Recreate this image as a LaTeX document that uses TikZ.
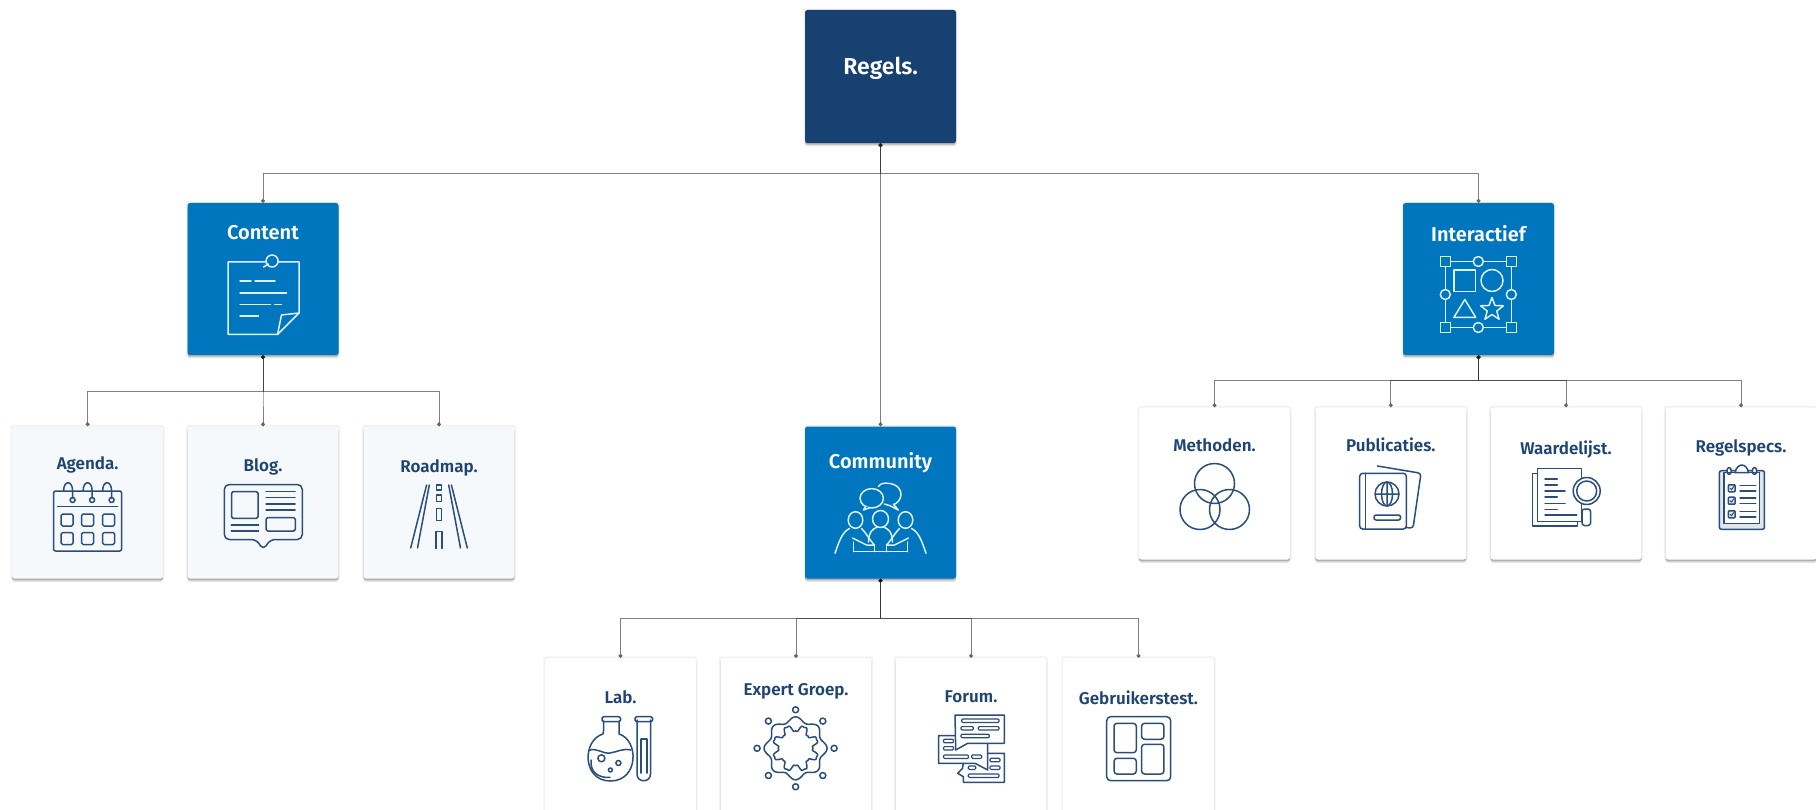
\documentclass[tikz,border=0pt]{standalone}
\usepackage{fontspec}
\setmainfont{Fira Sans}[BoldFont={Fira Sans SemiBold}]
\usepackage{tikz}
\usetikzlibrary{arrows.meta,shadows}
\definecolor{navybox}{RGB}{22,65,113}
\definecolor{bluebox}{RGB}{0,118,190}
\definecolor{palebox}{RGB}{245,249,252}
\definecolor{inktext}{RGB}{30,68,115}
\definecolor{inkline}{RGB}{42,78,122}
\definecolor{iconpale}{RGB}{222,240,250}
\tikzset{
  softshadow/.style={
    general shadow={shadow scale=1.02,opacity=.05,fill=black},
    general shadow={shadow yshift=-1pt,opacity=.10,fill=black},
    general shadow={shadow yshift=-2pt,opacity=.12,fill=black},
    general shadow={shadow yshift=-3.5pt,opacity=.10,fill=black}},
  cardbox/.style={rectangle,rounded corners=2.5pt,inner sep=0pt,minimum width=151pt,minimum height=152pt,softshadow},
  navycard/.style={cardbox,fill=navybox,minimum height=133pt},
  bluecard/.style={cardbox,fill=bluebox},
  palecard/.style={cardbox,fill=palebox},
  whitecard/.style={cardbox,fill=white},
  cardtext/.style={anchor=base,inner sep=0pt,font=\fontsize{17}{20}\selectfont\bfseries,text=inktext},
  toptext/.style={cardtext,font=\fontsize{20}{24}\selectfont\bfseries,text=white},
  wire/.style={draw=black!80,draw opacity=.62,line width=1pt,{Circle[length=4pt,fill=black]}-{Circle[length=4pt,fill=black!45]}},
  iconw/.style={draw=iconpale,line width=1.5pt,line join=round,line cap=round},
  iconb/.style={draw=inkline,line width=1.5pt,line join=round,line cap=round}
}
\newcommand{\iconnote}[2]{\begin{scope}[shift={(#1,#2)}]
  \draw[iconw] (-35.5,-36)--(35.5,-36)--(35.5,15)--(14,36.5)--(-35.5,36.5)--cycle;
  \draw[iconw] (35.5,15)--(18,17)--(14,36.5);
  \draw[iconw,fill=bluebox] (8.6,-37) circle (6);
  \draw[iconw] (0,-31)--(5,-34);
  \foreach \xa/\xb/\yy in {-23.5/-12.5/-17,-8.5/11.5/-17,-23.5/23/-5,-23.5/7/6.3,11.3/18/6.3,-23.5/-5/18}{
    \draw[iconw] (\xa,\yy)--(\xb,\yy);
  }
\end{scope}}
\newcommand{\iconshapes}[2]{\begin{scope}[shift={(#1,#2)}]
  \draw[iconw] (-33,-33) rectangle (33,33);
  \foreach \xx in {-33,33}{\foreach \yy in {-33,33}{
    \draw[iconw,fill=bluebox] (\xx-5,\yy-5) rectangle (\xx+5,\yy+5);
  }}
  \foreach \xx/\yy in {0/-33,0/33,-33/0,33/0}{
    \draw[iconw,fill=bluebox] (\xx,\yy) circle (5);
  }
  \draw[iconw] (-24.5,-24.5) rectangle (-3,-3);
  \draw[iconw] (13.7,-14) circle (11);
  \draw[iconw] (-13.5,5)--(-2.5,23)--(-24.5,23)--cycle;
  \draw[iconw,shift={(13.7,15)}] (-90:12)--(-54:5)--(-18:12)--(18:5)--(54:12)--(90:5)--(126:12)--(162:5)--(198:12)--(234:5)--cycle;
\end{scope}}
\newcommand{\iconpeople}[2]{\begin{scope}[shift={(#1,#2)}]
  \draw[iconw] (-2.2,-31.3) .. controls (0,-35) and (4,-35) .. (7.8,-34.7) .. controls (17,-34) and (21,-28) .. (20.5,-23) .. controls (20,-18) and (16,-14) .. (13,-13.7)--(17.8,-8)--(9.5,-12.3)--(3.8,-14);
  \draw[iconw] (-8.8,-19.7) ellipse (11.7 and 9.7);
  \draw[iconw,fill=bluebox] (-15,-11.5)--(-17,-8)--(-11,-10.3);
  \foreach \sgn in {-1,1}{
    \draw[iconw] (\sgn*25,2) ellipse (7.3 and 8.3);
    \draw[iconw] (\sgn*45.5,35.3) .. controls (\sgn*41,22) and (\sgn*38,14) .. (\sgn*31,10.5);
    \draw[iconw] (\sgn*19,10.5) .. controls (\sgn*15,14) and (\sgn*11,22) .. (\sgn*6,27)--(\sgn*14,27)--(\sgn*28,20);
    \draw[iconw] (\sgn*12,24) .. controls (\sgn*12,14) and (\sgn*8,11) .. (\sgn*3,9);
    \draw[iconw] (\sgn*27,24)--(\sgn*27,33.7) (\sgn*6,27)--(\sgn*6,33.7);
  }
  \draw[iconw] (0,1) ellipse (8 and 8.5);
  \draw[iconw] (-27,33.7)--(27,33.7);
\end{scope}}
\newcommand{\iconcalendar}[2]{\begin{scope}[shift={(#1,#2)}]
  \draw[iconb,rounded corners=2pt] (-34,-30) rectangle (34,30);
  \draw[iconb] (-30,-14.5)--(30,-14.5);
  \foreach \xx in {-15,4.5,24}{
    \draw[iconb] (\xx-9,-30) .. controls (\xx-9,-41) and (\xx,-41) .. (\xx,-30)--(\xx,-23);
    \draw[iconb] (\xx,-21) circle (2.5);
  }
  \foreach \xx in {-20.5,0,21}{\foreach \yy in {-1,17.5}{
    \draw[iconb,rounded corners=1.5pt] (\xx-6,\yy-6) rectangle (\xx+6,\yy+6);
  }}
\end{scope}}
\newcommand{\iconblog}[2]{\begin{scope}[shift={(#1,#2)}]
  \draw[iconb,rounded corners=5pt] (-39,-27.5)--(39,-27.5)--(39,27.5)--(7,27.5)--(0,38)--(-7,27.5)--(-39,27.5)--cycle;
  \draw[iconb,rounded corners=1.5pt] (-31.7,-20.3) rectangle (-5.3,6.3);
  \draw[iconb,rounded corners=1.5pt] (2.8,5.7) rectangle (32,19);
  \foreach \yy in {-20.3,-14.3,-8,-2}{\draw[iconb] (2.8,\yy)--(31.8,\yy);}
  \foreach \yy in {13,19}{\draw[iconb] (-32,\yy)--(-4.7,\yy);}
\end{scope}}
\newcommand{\iconroad}[2]{\begin{scope}[shift={(#1,#2)}]
  \foreach \sgn in {-1,1}{
    \draw[iconb] (\sgn*12.4,-31.5)--(\sgn*28.3,31.5) (\sgn*9.7,-31.5)--(\sgn*21.5,31.5);
  }
  \draw[iconb] (-2.5,-31.5) rectangle (2.5,-26.5) (-2.5,-21.5) rectangle (2.5,-15) (-2.5,-8) rectangle (2.5,4);
  \draw[iconb] (-3,32)--(-3,15)--(3,15)--(3,32);
\end{scope}}
\newcommand{\iconvenn}[2]{\begin{scope}[shift={(#1,#2)}]
  \foreach \xx/\yy in {0/-13,-14.5/13,15/13}{\draw[iconb] (\xx,\yy) circle (20);}
\end{scope}}
\newcommand{\iconpassport}[2]{\begin{scope}[shift={(#1,#2)}]
  \draw[iconb,rounded corners=3pt] (-12.6,-31)--(31,-23.7)--(23,31.3)--(16.3,30.5);
  \draw[iconb,fill=white,rounded corners=3pt] (-30.3,-23.7) rectangle (16.3,32);
  \draw[iconb] (-24.5,-23.7)--(-24.5,32);
  \draw[iconb] (-3,-3) circle (12) (-3,-15)--(-3,9) (-15,-3)--(9,-3);
  \draw[iconb] (-3,-3) ellipse (5.5 and 12);
  \draw[iconb,rounded corners=2pt] (-16,18) rectangle (10.5,23);
\end{scope}}
\newcommand{\iconsearch}[2]{\begin{scope}[shift={(#1,#2)}]
  \draw[iconb] (-28.3,-16.7)--(-33.7,-16.7)--(-33.7,36)--(11.7,36)--(11.7,31.7);
  \draw[iconb,fill=white] (-28.3,-21.7) rectangle (15.7,31.7);
  \foreach \xb/\yy in {-8.7/-11,-8.7/-5,-1/1,-8.7/7,-1/13.3,-8.7/19.3,10.7/25}{
    \draw[iconb] (-21,\yy)--(\xb,\yy);
  }
  \draw[iconb,fill=white,rounded corners=2.5pt] (16,19) rectangle (24.5,35.5);
  \draw[iconb,fill=white] (20.7,1) circle (13.5);
  \draw[iconb] (20.7,1) circle (10);
\end{scope}}
\newcommand{\iconclip}[2]{\begin{scope}[shift={(#1,#2)}]
  \draw[iconb,fill=inkline!14,rounded corners=2pt] (-22.4,-29.3) rectangle (22.6,29.3);
  \draw[iconb,fill=white] (-17.7,-27.3) rectangle (17.6,23.3);
  \draw[iconb,fill=white] (-6.7,-27.3) .. controls (-6,-32) and (-3,-35) .. (0,-35) .. controls (3,-35) and (6,-32) .. (6.7,-27.3)--cycle;
  \foreach \sgn in {-1,1}{
    \draw[iconb,fill=white] (\sgn*12.7,-29) ellipse (2.2 and 3.5);
    \draw[iconb] (\sgn*17.6,-27.3)--(\sgn*6.7,-27.3);
  }
  \foreach \yy in {-11.7,.7,14.3}{
    \draw[iconb,fill=inkline!12,rounded corners=.8pt] (-13.4,\yy-3.5) rectangle (-6.7,\yy+3.5);
    \draw[iconb,line width=1pt] (-11.8,\yy)--(-10.2,\yy+1.4)--(-8,\yy-2);
    \draw[iconb] (-1.7,\yy-2.7)--(14,\yy-2.7) (-1.7,\yy+2.7)--(14,\yy+2.7);
  }
\end{scope}}
\newcommand{\iconflask}[2]{\begin{scope}[shift={(#1,#2)}]
  \draw[iconb] (-16.3,-29) .. controls (-16.3,-20) and (-16.3,-18) .. (-17,-16) .. controls (-38,-10) and (-38,31) .. (-9.6,31) .. controls (19,31) and (19,-10) .. (-1,-16) .. controls (-1,-20) and (-1,-20) .. (-1,-29);
  \draw[iconb,rounded corners=1.5pt] (-18,-33.3) rectangle (.5,-28.3);
  \draw[iconb] (-31,.5) .. controls (-24,-3) and (-18,4) .. (-10,3) .. controls (-3,2) and (3,-2) .. (11,0);
  \draw[iconb] (-29,10) .. controls (-30,22) and (-22,28) .. (-10,27.5);
  \draw[iconb] (-18.6,8.3) circle (3.5) (-1.6,13) circle (2.5) (-9.6,20) circle (2);
  \draw[iconb] (17,-30)--(17,24) .. controls (17,33) and (30.5,33) .. (30.5,24)--(30.5,-30);
  \draw[iconb,rounded corners=1.5pt] (15,-33.3) rectangle (32.5,-28.3);
  \draw[iconb] (21,-11)--(21,23) (27,-11)--(27,23) (21,-11)--(27,-11);
\end{scope}}
\newcommand{\icongear}[2]{\begin{scope}[shift={(#1,#2)}]
  \draw[iconb] plot[domain=0:360,samples=121,smooth] ({(29+2.5*cos(8*\x))*cos(\x)},{(29+2.5*cos(8*\x))*sin(\x)});
  \draw[iconb] plot[domain=0:360,samples=241,smooth] ({(20-3.5*(cos(8*\x)-cos(24*\x)/4))*cos(\x)},{(20-3.5*(cos(8*\x)-cos(24*\x)/4))*sin(\x)});
  \foreach \ang in {0,45,...,315}{\draw[iconb,fill=white] (\ang:38.5) circle (3);}
\end{scope}}
\newcommand{\iconforum}[2]{\begin{scope}[shift={(#1,#2)}]
  \draw[iconb] (-16.5,-13)--(-33,-13)--(-33,14.6)--(3.5,14.6)--(16.2,21.3)--(16.2,-5.4);
  \draw[iconb,fill=white] (-16.5,-33.7)--(32.8,-33.7)--(32.8,-5.4)--(-3.8,-5.4)--(-15.8,1.3)--cycle;
  \draw[iconb] (16.2,4.6)--(32.8,4.6)--(32.8,33.6)--(-8.2,33.6)--(-8.2,28)--(-13.8,24.6)--(-9,19.6)--(-8.2,14.6);
  \foreach \xa/\xb/\yy in {-9.8/27.5/-28,-10.5/1.8/-20.4,6.8/27.5/-20.4,-10.5/17.8/-12.7,-28/-18/-7.7,-28/-18/-.4,-28/-3/8,.2/10.2/8,18.5/28.5/11.3,18.5/28.5/19,-3.2/4.2/19,-3.2/27.5/27}{
    \draw[iconb,line width=1.2pt,rounded corners=1pt] (\xa,\yy-1.7) rectangle (\xb,\yy+1.7);
  }
\end{scope}}
\newcommand{\iconpanels}[2]{\begin{scope}[shift={(#1,#2)}]
  \draw[iconb,rounded corners=4pt] (-32,-32) rectangle (32,32);
  \foreach \xa/\ya/\xb/\yb in {-24.7/-25.4/-2.4/4,2.9/-25.4/25.2/-9.4,-24.7/9.6/-2.4/25.3,2.9/-4.4/25.2/25.3}{
    \draw[iconb,rounded corners=3pt] (\xa,\ya) rectangle (\xb,\yb);
  }
\end{scope}}

\begin{document}
\begin{tikzpicture}[x=1pt,y=-1pt]
\useasboundingbox[fill=white] (0,0) rectangle (1816,810);
% top of the tree
\node[navycard] (regels) at (880.5,76.5) {};
\node[bluecard] (content) at (263,279) {};
\node[bluecard] (community) at (880.5,502.5) {};
\node[bluecard] (interactief) at (1478.5,279) {};
% cards
\node[palecard] (agenda) at (87.6,502.5) {};
\node[palecard] (blog) at (263,502.5) {};
\node[palecard] (roadmap) at (439,502.5) {};
\node[whitecard,minimum height=164pt] (lab) at (620.5,740) {};
\node[whitecard,minimum height=164pt] (expert) at (796,740) {};
\node[whitecard,minimum height=164pt] (forum) at (971,740) {};
\node[whitecard,minimum height=164pt] (gebruikers) at (1138.5,740) {};
\node[whitecard] (methoden) at (1214.5,483.5) {};
\node[whitecard] (publicaties) at (1390.8,483.5) {};
\node[whitecard] (waardelijst) at (1566,483.5) {};
\node[whitecard] (regelspecs) at (1741,483.5) {};
% connectors
\coordinate (busmain) at (0,174);
\coordinate (buscontent) at (0,391);
\coordinate (buscommunity) at (0,618.7);
\coordinate (businteractief) at (0,380.7);
\foreach \kid in {content,community,interactief}{
  \draw[wire] (regels.south) -- (regels.south |- busmain) -| (\kid.north);
}
\foreach \kid in {agenda,blog,roadmap}{
  \draw[wire] (content.south) -- (content.south |- buscontent) -| (\kid.north);
}
\foreach \kid in {lab,expert,forum,gebruikers}{
  \draw[wire] (community.south) -- (community.south |- buscommunity) -| (\kid.north);
}
\foreach \kid in {methoden,publicaties,waardelijst,regelspecs}{
  \draw[wire] (interactief.south) -- (interactief.south |- businteractief) -| (\kid.north);
}
% labels
\node[toptext,font=\fontsize{23}{26}\selectfont\bfseries] (regelstxt) at (880.7,75) {Regels.};
\node[toptext] (contenttxt) at (263,239.5) {Content};
\node[toptext] (communitytxt) at (880.5,468.3) {Community};
\node[toptext] (interactieftxt) at (1478.5,241.7) {Interactief};
\node[cardtext] (agendatxt) at (87.6,469.3) {Agenda.};
\node[cardtext] (blogtxt) at (263,471.7) {Blog.};
\node[cardtext] (roadmaptxt) at (439,472.3) {Roadmap.};
\node[cardtext] (labtxt) at (620.5,703.3) {Lab.};
\node[cardtext] (experttxt) at (796,695) {Expert Groep.};
\node[cardtext] (forumtxt) at (971,702.3) {Forum.};
\node[cardtext] (gebruikerstxt) at (1138.5,704) {Gebruikerstest.};
\node[cardtext] (methodentxt) at (1214.5,451.7) {Methoden.};
\node[cardtext] (publicatiestxt) at (1390.8,451.7) {Publicaties.};
\node[cardtext] (waardelijsttxt) at (1566,454.3) {Waardelijst.};
\node[cardtext] (regelspecstxt) at (1741,452.3) {Regelspecs.};
% icons
\iconnote{263.5}{298}
\iconshapes{1478.3}{294.5}
\iconpeople{880.5}{518}
\iconcalendar{87.6}{521}
\iconblog{263.3}{512}
\iconroad{439}{516.5}
\iconflask{620}{750}
\icongear{795.6}{748.3}
\iconforum{971.5}{748.7}
\iconpanels{1138.7}{748.7}
\iconvenn{1214.5}{496.5}
\iconpassport{1390}{497}
\iconsearch{1566}{490}
\iconclip{1741.8}{500}
\end{tikzpicture}
\end{document}
